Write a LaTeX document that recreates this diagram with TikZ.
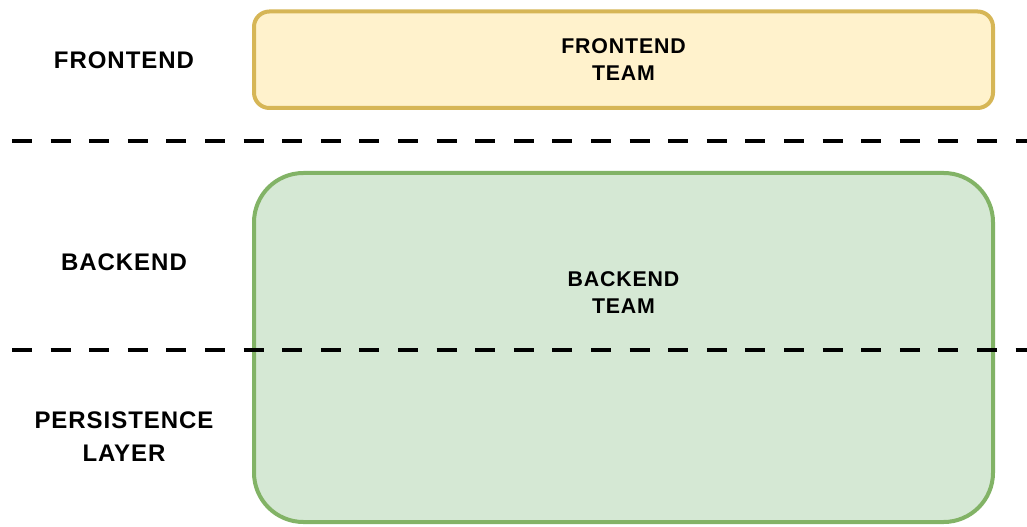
\documentclass[tikz,border=0pt]{standalone}
\usepackage{fontspec}
\setmainfont{Liberation Sans}
\newfontfamily\labelfont[LetterSpace=4]{Liberation Sans}
\definecolor{feFill}{HTML}{FFF2CC}
\definecolor{feLine}{HTML}{D6B656}
\definecolor{beFill}{HTML}{D5E8D4}
\definecolor{beLine}{HTML}{82B366}
\tikzset{
  layerlabel/.style={align=center, inner sep=0pt,
    font=\labelfont\bfseries\fontsize{18}{24.75}\selectfont},
  teamtext/.style={align=center, inner sep=0pt,
    font=\labelfont\bfseries\fontsize{16}{20.25}\selectfont},
  divider/.style={line width=3.4pt, dash pattern=on 15pt off 13.95pt, line cap=butt},
  teambox/.style={line width=3pt, inner sep=0pt}
}
\begin{document}
\begin{tikzpicture}[x=0.75pt, y=-0.75pt]
  \useasboundingbox (0,0) rectangle (1027,527);

  % team boxes
  \draw[teambox, draw=feLine, fill=feFill, rounded corners=11.5pt]
    (254,11.5) rectangle (993,108);
  \draw[teambox, draw=beLine, fill=beFill, rounded corners=37pt]
    (254,173) rectangle (993,522);

  \node[teamtext] (frontteam) at (623.5,60) {FRONTEND\\TEAM};
  \node[teamtext] (backteam) at (623.5,293) {BACKEND\\TEAM};

  % layer names
  \node[layerlabel] (frontend) at (124,60) {FRONTEND};
  \node[layerlabel] (backend) at (124,262) {BACKEND};
  \node[layerlabel] (persist) at (124,437) {PERSISTENCE\\LAYER};

  % layer dividers
  \coordinate (d1a) at (12,141);
  \coordinate (d1b) at (1040,141);
  \coordinate (d2a) at (12,350);
  \coordinate (d2b) at (1040,350);
  \draw[divider] (d1a) -- (d1b);
  \draw[divider] (d2a) -- (d2b);
\end{tikzpicture}
\end{document}
